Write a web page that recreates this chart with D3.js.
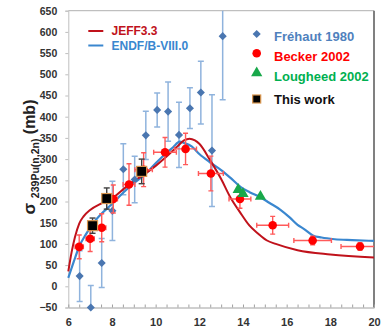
<!DOCTYPE html>
<html>
<head>
<meta charset="utf-8">
<script src="https://cdn.jsdelivr.net/npm/d3@7"></script>
<style>
  html, body { margin: 0; padding: 0; background: #fff; }
  svg { display: block; font-family: "Liberation Sans", Arial, sans-serif; }
</style>
</head>
<body>
<svg id="chart" width="384" height="331"></svg>
<script>
// Evaluated cross sections (MeV, mb)
const jeffE = [6.0, 6.15, 6.3, 6.5, 6.7, 7.0, 7.5, 8.0, 8.5, 9.0, 9.5, 10.0, 10.5, 11.0, 11.3, 11.55, 11.8, 12.0, 12.5, 13.0, 13.4, 13.86, 14.3, 14.7, 15.1, 15.5, 16.5, 18.0, 20.0];
const jeffV = [35, 80, 115, 148, 165, 180, 195, 207, 228, 248, 265, 284, 306, 330, 344, 348, 344, 336, 297, 253, 212, 175, 143, 124, 108, 100, 85, 75, 68];
const endfE = [6.0, 6.25, 6.5, 6.8, 7.1, 7.5, 8.0, 8.5, 9.0, 9.5, 10.0, 10.5, 10.8, 11.1, 11.3, 11.65, 12.0, 12.5, 13.0, 13.4, 13.9, 14.3, 14.8, 15.2, 15.7, 16.15, 16.5, 16.8, 17.2, 17.6, 18.2, 19.0, 20.0];
const endfV = [20, 58, 94, 122, 146, 170, 194, 220, 243, 263, 290, 315, 328, 341, 338, 330, 312, 292, 274, 257, 234, 222, 210, 197, 181, 162, 145, 135, 120, 115, 111, 109, 107];

// Fréhaut 1980
const frehautE   = [6.52, 7.03, 7.53, 8.02, 8.52, 9.04, 9.55, 10.07, 10.57, 11.07, 11.57, 12.07, 12.58, 13.07];
const frehautV   = [24, -50, 55, 178, 276, 252, 356, 416, 412, 357, 420, 457, 320, 590];
const frehautErr = [60, 52, 58, 70, 60, 55, 57, 40, 70, 77, 48, 74, 132, 150];

// Becker 2002
const beckerE  = [6.5, 7.0, 7.53, 8.06, 8.78, 9.45, 10.43, 11.37, 12.53, 13.86, 15.36, 17.19, 19.36];
const beckerV  = [93, 112, 138, 206, 240, 275, 316, 324, 266, 206, 144, 108, 94];
const beckerDV = [28, 30, 33, 33, 49, 40, 35, 37, 41, 22, 21, 10, 9];
const beckerDE = [0.19, 0.19, 0.19, 0.19, 0.27, 0.4, 0.52, 0.5, 0.57, 0.5, 0.73, 0.86, 0.87];

// Lougheed 2002
const lougheedE = [13.78, 14.0, 14.8];
const lougheedV = [228, 218, 212];

// This work
const workE   = [7.11, 7.76, 9.36];
const workV   = [143, 207, 271];
const workErr = [18, 25, 29];

const xTicks = [6, 8, 10, 12, 14, 16, 18, 20];
const yTicks = d3.range(-50, 651, 50);

const svg = d3.select("#chart");
const x = d3.scaleLinear().domain([6, 20]).range([68.3, 374]);
const y = d3.scaleLinear().domain([-50, 650]).range([307.5, 10.7]);

const C = {
  jeff: "#c0121b", endf: "#3a87cf",
  frehaut: "#4a76b0", frehautBar: "#8fb3dd", frehautText: "#4f81bd",
  becker: "#ff0000", beckerBar: "#ff5a5a",
  lougheed: "#18a84a", lougheedText: "#00b050",
  work: "#000", workEdge: "#d9964f"
};
const FONT = "Liberation Sans, Arial, sans-serif";

svg.append("defs").append("clipPath").attr("id", "plot")
  .append("rect").attr("x", x(6)).attr("y", y(650))
  .attr("width", x(20) - x(6)).attr("height", y(-50) - y(650));

// frame: top and right borders
svg.append("line").attr("x1", x(6)).attr("x2", x(20)).attr("y1", y(650)).attr("y2", y(650))
  .attr("stroke", "#b0b0b0").attr("stroke-width", 1);
svg.append("line").attr("x1", x(20)).attr("x2", x(20)).attr("y1", y(650)).attr("y2", y(-50))
  .attr("stroke", "#808080").attr("stroke-width", 2);

// y axis
const yAxis = svg.append("g").attr("transform", `translate(${x(6)},0)`)
  .call(d3.axisLeft(y).tickValues(yTicks).tickSize(3).tickPadding(8).tickFormat(d3.format("d")))
  .attr("font-family", FONT);
yAxis.select(".domain").attr("stroke", "#bfbfbf");
yAxis.selectAll(".tick line").attr("stroke", "#bfbfbf");
yAxis.selectAll("text").attr("font-size", 10.5).attr("font-weight", "bold").attr("fill", "#333");

// x axis with half-unit minor ticks pointing inward
const xAxis = svg.append("g").attr("transform", `translate(0,${y(-50)})`)
  .call(d3.axisBottom(x).tickValues(xTicks).tickSize(0).tickPadding(10.5).tickFormat(d3.format("d")))
  .attr("font-family", FONT);
xAxis.select(".domain").attr("stroke", "#a0a0a0");
xAxis.selectAll("text").attr("font-size", 11).attr("font-weight", "bold").attr("fill", "#333");
const xMinor = svg.append("g").attr("transform", `translate(0,${y(-50)})`)
  .call(d3.axisBottom(x).tickValues(d3.range(6, 20.01, 0.5)).tickSize(-3).tickFormat(""));
xMinor.select(".domain").remove();
xMinor.selectAll(".tick line").attr("stroke", "#a0a0a0");

// y label
const yl = svg.append("text")
  .attr("transform", `translate(35,${157}) rotate(-90)`)
  .attr("text-anchor", "middle").attr("font-weight", "bold").attr("fill", "#222");
yl.append("tspan").attr("font-size", 17).text("σ ");
yl.append("tspan").attr("font-size", 10.5).attr("dy", 4).text("239Pu(n,2n)");
yl.append("tspan").attr("font-size", 16).attr("dy", -4).text(" (mb)");

const plot = svg.append("g");
const bars = plot.append("g").attr("clip-path", "url(#plot)");

// evaluation curves
const line = d3.line().x(d => x(d[0])).y(d => y(d[1])).curve(d3.curveMonotoneX);
plot.append("path").datum(d3.zip(endfE, endfV)).attr("d", line)
  .attr("fill", "none").attr("stroke", C.endf).attr("stroke-width", 2.2);
plot.append("path").datum(d3.zip(jeffE, jeffV)).attr("d", line)
  .attr("fill", "none").attr("stroke", C.jeff).attr("stroke-width", 2);

function vBar(g, cx, v, e, color, cap, w) {
  g.append("line").attr("x1", x(cx)).attr("x2", x(cx)).attr("y1", y(v - e)).attr("y2", y(v + e))
    .attr("stroke", color).attr("stroke-width", w);
  [v - e, v + e].forEach(b => g.append("line")
    .attr("x1", x(cx) - cap).attr("x2", x(cx) + cap).attr("y1", y(b)).attr("y2", y(b))
    .attr("stroke", color).attr("stroke-width", w));
}
function hBar(g, cx, v, e, color, cap, w) {
  g.append("line").attr("x1", x(cx - e)).attr("x2", x(cx + e)).attr("y1", y(v)).attr("y2", y(v))
    .attr("stroke", color).attr("stroke-width", w);
  [cx - e, cx + e].forEach(b => g.append("line")
    .attr("x1", x(b)).attr("x2", x(b)).attr("y1", y(v) - cap).attr("y2", y(v) + cap)
    .attr("stroke", color).attr("stroke-width", w));
}

// Fréhaut
const frehautG = plot.append("g");
frehautE.forEach((e, i) => vBar(bars, e, frehautV[i], frehautErr[i], C.frehautBar, 3, 1.5));
const diamond = d3.symbol().type(d3.symbolDiamond2).size(42);
frehautE.forEach((e, i) => frehautG.append("path").attr("d", diamond())
  .attr("transform", `translate(${x(e)},${y(frehautV[i])})`).attr("fill", C.frehaut));

// Becker
const beckerBars = plot.append("g").attr("clip-path", "url(#plot)");
beckerE.forEach((e, i) => {
  vBar(beckerBars, e, beckerV[i], beckerDV[i], C.beckerBar, 2.5, 1.4);
  hBar(beckerBars, e, beckerV[i], beckerDE[i], C.beckerBar, 2.5, 1.4);
});
beckerE.forEach((e, i) => plot.append("circle").attr("cx", x(e)).attr("cy", y(beckerV[i]))
  .attr("r", 4.3).attr("fill", C.becker));

// Lougheed
const tri = d3.symbol().type(d3.symbolTriangle).size(55);
lougheedE.forEach((e, i) => plot.append("path").attr("d", tri())
  .attr("transform", `translate(${x(e)},${y(lougheedV[i])})`).attr("fill", C.lougheed));

// This work
workE.forEach((e, i) => vBar(plot, e, workV[i], workErr[i], "#404040", 3, 1.4));
workE.forEach((e, i) => plot.append("rect")
  .attr("x", x(e) - 5).attr("y", y(workV[i]) - 5).attr("width", 10).attr("height", 10)
  .attr("fill", C.work).attr("stroke", C.workEdge).attr("stroke-width", 1.2));

// legend: evaluations
const lg1 = svg.append("g").attr("font-weight", "bold").attr("font-size", 12);
[["JEFF3.3", C.jeff, 31], ["ENDF/B-VIII.0", C.endf, 45.5]].forEach(([t, c, cy]) => {
  lg1.append("line").attr("x1", 88.3).attr("x2", 103.3).attr("y1", cy).attr("y2", cy)
    .attr("stroke", c).attr("stroke-width", 2);
  lg1.append("text").attr("x", 111.5).attr("y", cy + 4.4).attr("fill", c).text(t);
});

// legend: measurements
const lg2 = svg.append("g").attr("font-weight", "bold").attr("font-size", 13);
const lx = 256.7;
lg2.append("path").attr("d", diamond()).attr("transform", `translate(${lx},34)`).attr("fill", C.frehaut);
lg2.append("circle").attr("cx", lx).attr("cy", 53.3).attr("r", 4.3).attr("fill", C.becker);
lg2.append("path").attr("d", tri()).attr("transform", `translate(${lx},73)`).attr("fill", C.lougheed);
lg2.append("rect").attr("x", lx - 4).attr("y", 95).attr("width", 8).attr("height", 8)
  .attr("fill", C.work).attr("stroke", C.workEdge).attr("stroke-width", 1.2);
[["Fréhaut 1980", C.frehautText, 36], ["Becker 2002", C.becker, 56.7],
 ["Lougheed 2002", C.lougheedText, 76], ["This work", "#111", 99]].forEach(([t, c, cy]) => {
  lg2.append("text").attr("x", 274).attr("y", cy + 4.6).attr("fill", c).text(t);
});
</script>
</body>
</html>
